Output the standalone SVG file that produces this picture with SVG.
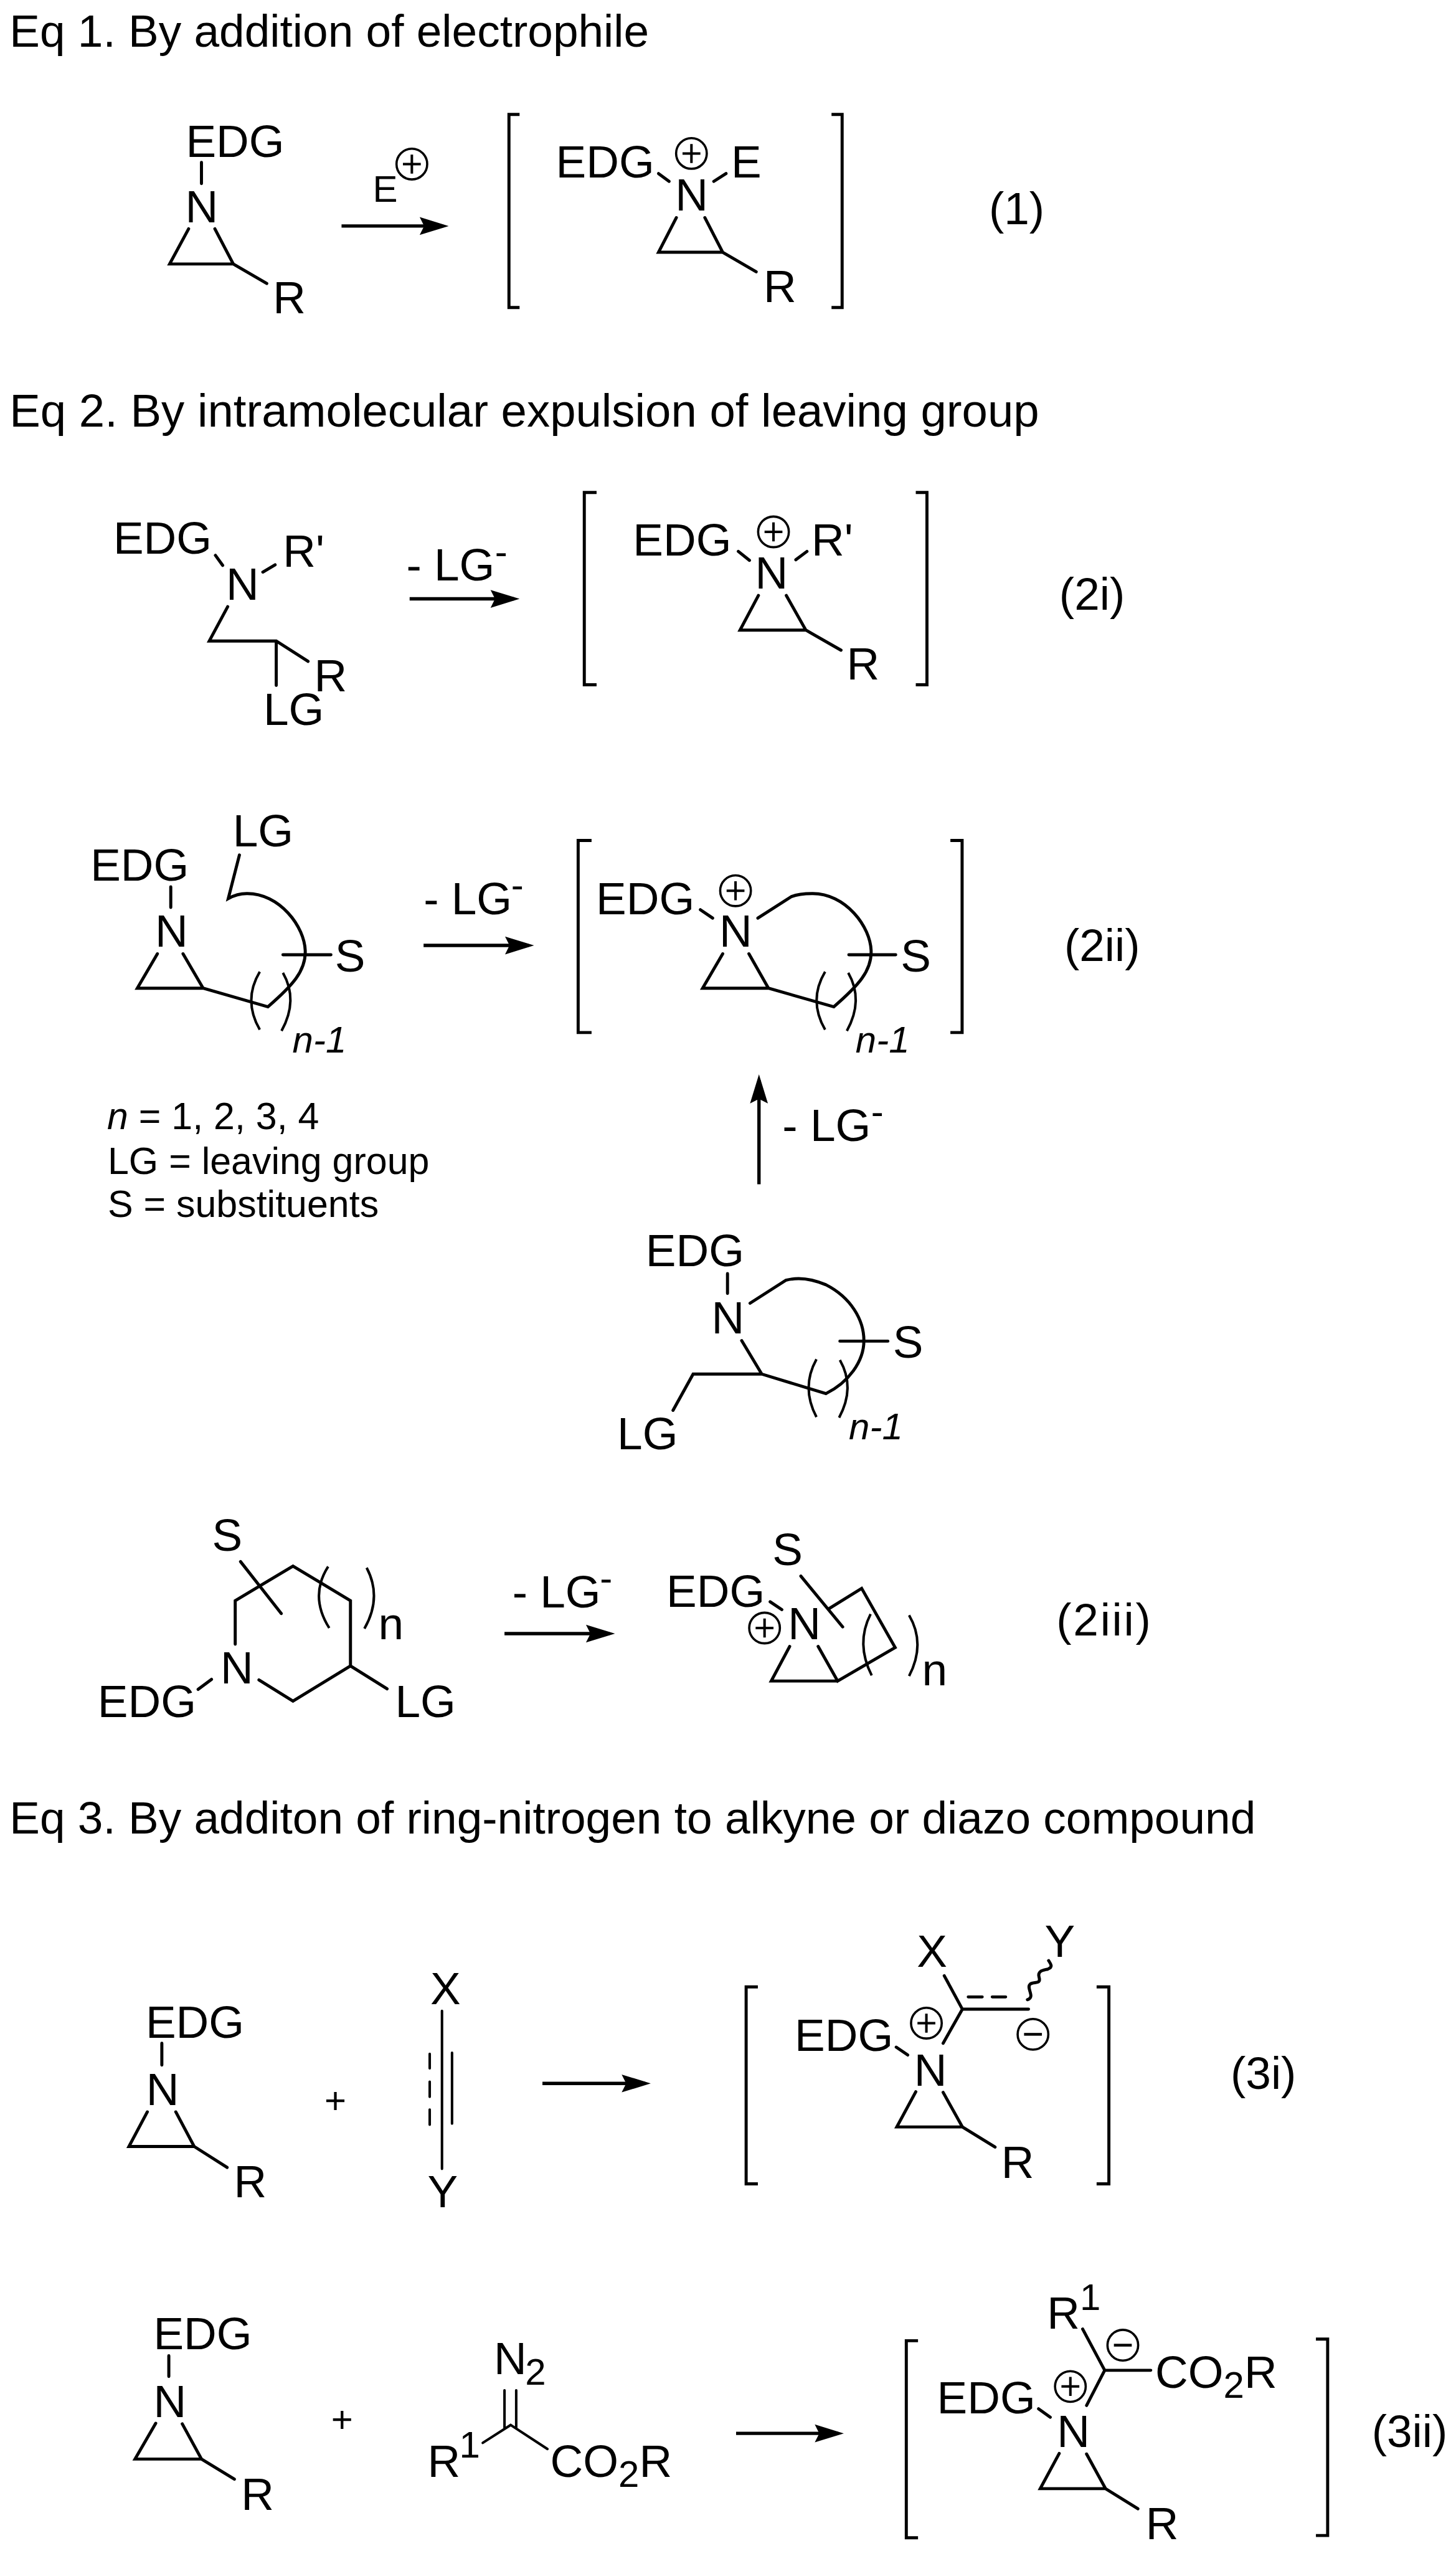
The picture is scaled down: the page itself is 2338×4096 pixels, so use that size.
<svg xmlns="http://www.w3.org/2000/svg" xmlns:xlink="http://www.w3.org/1999/xlink" width="2338" height="4096" viewBox="0 0 2338 4096">
<style>
text{font-family:"Liberation Sans",Arial,sans-serif;fill:#000}
.t{font-size:81.5px}
.s{font-size:67px}
.l{font-size:68px}
.i{font-style:italic}
.b{fill:none;stroke:#000;stroke-width:5.5;stroke-linecap:round;stroke-linejoin:miter}
.p{fill:none;stroke:#000;stroke-width:4.5}
.br{fill:none;stroke:#000;stroke-width:5.5}
.a{fill:none;stroke:#000;stroke-width:6}
</style>
<defs>
<marker id="ah" markerUnits="userSpaceOnUse" markerWidth="60" markerHeight="40" refX="42" refY="20" orient="auto" overflow="visible"><path d="M0 4L52 20L0 36L8 20Z" fill="#000"/></marker>
<g id="plus"><circle r="27.5" fill="none" stroke="#000" stroke-width="4"/><path d="M-16 0H16M0 -17V17" fill="none" stroke="#000" stroke-width="4.5"/></g>
<g id="minus"><circle r="27.5" fill="none" stroke="#000" stroke-width="4"/><path d="M-16 0H16" fill="none" stroke="#000" stroke-width="5"/></g>
</defs>
<rect width="2338" height="4096" fill="#fff"/>
<g transform="scale(0.89613)">
<g id="titles">
<text class="t" x="17" y="84">Eq 1. By addition of electrophile</text>
<text class="t" x="17" y="764" style="font-size:83px">Eq 2. By intramolecular expulsion of leaving group</text>
<text class="t" x="17" y="3285">Eq 3. By additon of ring-nitrogen to alkyne or diazo compound</text>
</g>
<g id="connectors">
<line class="a" x1="612" y1="405" x2="794" y2="405" marker-end="url(#ah)"/>
<line class="a" x1="734" y1="1073" x2="921" y2="1073" marker-end="url(#ah)"/>
<line class="a" x1="759" y1="1694" x2="947" y2="1694" marker-end="url(#ah)"/>
<line class="a" x1="1360" y1="2122" x2="1360" y2="1935" marker-end="url(#ah)"/>
<line class="a" x1="904" y1="2927" x2="1092" y2="2927" marker-end="url(#ah)"/>
<line class="a" x1="972" y1="3733" x2="1156" y2="3733" marker-end="url(#ah)"/>
<line class="a" x1="1319" y1="4360" x2="1502" y2="4360" marker-end="url(#ah)"/>
</g>
<g id="arrow-labels">
<text class="s" x="668" y="362">E</text><use xlink:href="#plus" href="#plus" x="738" y="294"/>
<text class="t" x="728" y="1040">- LG</text><text class="s" x="887" y="1011">-</text>
<text class="t" x="759" y="1638">- LG</text><text class="s" x="916" y="1608">-</text>
<text class="t" x="1402" y="2044">- LG</text><text class="s" x="1561" y="2014">-</text>
<text class="t" x="918" y="2880">- LG</text><text class="s" x="1075" y="2850">-</text>
</g>
<g id="eq1-reactant">
<text class="t" x="333" y="281">EDG</text>
<text class="t" x="332" y="398">N</text>
<text class="t" x="489" y="561">R</text>
<path class="b" d="M361 291V329M338 410L304 473H418L385 410M418 473L478 508"/>
</g>
<g id="eq1-product">
<path class="br" d="M931 205H912V551H931M1490 205H1509V551H1490"/>
<text class="t" x="996" y="318">EDG</text>
<use xlink:href="#plus" href="#plus" x="1239" y="275"/>
<text class="t" x="1310" y="318">E</text>
<text class="t" x="1210" y="377">N</text>
<text class="t" x="1368" y="541">R</text>
<path class="b" d="M1180 311L1199 325M1301 311L1279 325M1212 390L1180 452H1295L1263 390M1295 452L1355 487"/>
</g>
<text class="t" id="label-1" x="1772" y="402">(1)</text>
<g id="eq2i-reactant">
<text class="t" x="203" y="992">EDG</text>
<text class="t" x="405" y="1075">N</text>
<text class="t" x="507" y="1016">R'</text>
<text class="t" x="563" y="1239">R</text>
<text class="t" x="472" y="1299">LG</text>
<path class="b" d="M386 995L399 1013M493 1012L471 1025M408 1087L375 1148.5H495L552 1185M495 1148.5V1228"/>
</g>
<g id="eq2i-product">
<path class="br" d="M1069 882.500H1047V1227H1069M1641 882.500H1661V1227H1641"/>
<text class="t" x="1134" y="995">EDG</text>
<use xlink:href="#plus" href="#plus" x="1386" y="953"/>
<text class="t" x="1454" y="995">R'</text>
<text class="t" x="1353" y="1054">N</text>
<text class="t" x="1517" y="1218">R</text>
<path class="b" d="M1323 988L1343 1004M1446 988L1426 1003M1359 1067L1326 1129H1444L1409 1067M1444 1129L1507 1165"/>
</g>
<text class="t" id="label-2i" x="1898" y="1093">(2i)</text>
<g id="eq2ii-reactant">
<text class="t" x="417" y="1517">LG</text>
<text class="t" x="162" y="1578">EDG</text>
<text class="t" x="278" y="1696">N</text>
<text class="t" x="600" y="1741">S</text>
<text class="s i" x="524" y="1886">n-1</text>
<path class="b" d="M306 1589V1626M282 1709L246 1770.600H364L328 1709M364 1770.600L480 1804C525 1765 547 1740 547 1706C547 1660 500 1600 442 1601Q425 1601 409 1610L429 1532M507 1710.600H593"/>
<path class="p" d="M465.500 1741Q435 1792 465.500 1845M507 1743Q535 1792 504.500 1847"/>
</g>
<g id="eq2ii-product">
<path class="br" d="M1060 1506H1036V1850H1060M1703 1506H1724V1850H1703"/>
<text class="t" x="1068" y="1638">EDG</text>
<use xlink:href="#plus" href="#plus" x="1318" y="1596"/>
<text class="t" x="1289" y="1696">N</text>
<text class="t" x="1614" y="1741">S</text>
<text class="s i" x="1533" y="1886">n-1</text>
<path class="b" d="M1255 1630L1277 1645M1295 1709L1259 1770.600H1377L1342 1709M1377 1770.600L1494 1804C1539 1765 1561 1740 1561 1706C1561 1660 1514 1600 1455 1601Q1432 1601 1418 1606.500L1358 1645M1521 1710.600H1605"/>
<path class="p" d="M1478.500 1741Q1448 1792 1478.500 1845M1520 1743Q1548 1792 1517.500 1847"/>
</g>
<text class="t" id="label-2ii" x="1907" y="1722">(2ii)</text>
<g id="legend">
<text class="l" x="192" y="2023"><tspan class="i">n</tspan> = 1, 2, 3, 4</text>
<text class="l" x="193" y="2103">LG = leaving group</text>
<text class="l" x="193" y="2181">S = substituents</text>
</g>
<g id="eq2ii-precursor">
<text class="t" x="1157" y="2269">EDG</text>
<text class="t" x="1275" y="2389">N</text>
<text class="t" x="1600" y="2433">S</text>
<text class="t" x="1106" y="2597">LG</text>
<text class="s i" x="1521" y="2579">n-1</text>
<path class="b" d="M1303.600 2282V2317.600M1344 2335L1408 2294Q1440 2285 1480 2302C1525 2325 1548 2365 1548 2402C1548 2440 1520 2477 1480 2497L1365 2462L1329 2402M1365 2462H1242L1206 2527M1505 2403H1591"/>
<path class="p" d="M1463 2435.500Q1435 2486 1463 2539M1505 2437Q1533 2486 1503.600 2540"/>
</g>
<g id="eq2iii-reactant">
<text class="t" x="380" y="2779">S</text>
<text class="t" x="395" y="3016">N</text>
<text class="t" x="175" y="3077">EDG</text>
<text class="t" x="708" y="3077">LG</text>
<text class="t" x="678" y="2937">n</text>
<path class="b" d="M421.500 2946V2868L525 2806L628 2868V2985L525 3048L464 3010M628 2985L693.600 3026M379 3009L355 3027M431 2798L504 2891"/>
<path class="p" d="M588 2807Q554 2860 590 2917M657 2809Q685 2862 653 2918"/>
</g>
<g id="eq2iii-product">
<text class="t" x="1384" y="2804">S</text>
<text class="t" x="1194" y="2879">EDG</text>
<use xlink:href="#plus" href="#plus" x="1370" y="2917"/>
<text class="t" x="1412" y="2937">N</text>
<text class="t" x="1652" y="3020">n</text>
<path class="b" d="M1380 2870L1401 2884M1435 2824L1510 2915M1486 2882L1544 2846L1604 2952L1501 3012L1466 2950M1501 3012H1382L1415 2950"/>
<path class="p" d="M1560 2892Q1533 2945 1562 3002M1629 2894Q1659 2945 1629 3003"/>
</g>
<text class="t" id="label-2iii" x="1893" y="2930" style="letter-spacing:3px">(2iii)</text>
<g id="eq3i-aziridine">
<text class="t" x="261" y="3651">EDG</text>
<text class="t" x="262" y="3772">N</text>
<text class="t" x="419" y="3937">R</text>
<path class="b" d="M290 3661V3700M264 3784L231 3846H348L315 3784M348 3846L407 3883.500"/>
</g>
<text class="s" id="plus-3i" x="601" y="3786" text-anchor="middle">+</text>
<g id="eq3i-alkyne">
<text class="t" x="771" y="3591">X</text>
<text class="t" x="766" y="3955">Y</text>
<path class="b" d="M792 3603V3886M810 3678V3805M770 3680V3706M770 3730V3757M770 3780V3807" style="stroke-width:4.500"/>
</g>
<g id="eq3i-product">
<path class="br" d="M1358 3560H1337V3913H1358M1965 3560H1987V3913H1965"/>
<text class="t" x="1643" y="3524">X</text>
<text class="t" x="1872" y="3506">Y</text>
<text class="t" x="1424" y="3675">EDG</text>
<text class="t" x="1638" y="3737">N</text>
<text class="t" x="1794" y="3902">R</text>
<use xlink:href="#plus" href="#plus" x="1660" y="3625"/>
<use xlink:href="#minus" href="#minus" x="1851" y="3645"/>
<path class="b" d="M1692 3540L1724.500 3600H1843M1724.500 3600L1690 3661M1735 3578H1760M1778 3578H1802M1606 3668L1626.500 3682M1641 3748L1607 3811H1724.500L1690 3749M1724.500 3811L1783 3847"/>
<path class="b" d="M1841 3583C1856 3578 1838 3562 1846 3555C1852 3550 1866 3556 1862 3543C1858 3530 1872 3530 1878 3528C1888 3524 1882 3518 1879 3513"/>
</g>
<text class="t" id="label-3i" x="2205" y="3743">(3i)</text>
<g id="eq3ii-aziridine">
<text class="t" x="275" y="4209">EDG</text>
<text class="t" x="275" y="4331">N</text>
<text class="t" x="432" y="4497">R</text>
<path class="b" d="M302.500 4221V4258M279 4342L242 4406H361L326.600 4343M361 4406L420 4442"/>
</g>
<text class="s" id="plus-3ii" x="613" y="4358" text-anchor="middle">+</text>
<g id="eq3ii-diazo">
<text class="t" x="885" y="4254">N</text><text class="s" x="941" y="4273">2</text>
<text class="t" x="766" y="4438">R</text><text class="s" x="823" y="4403">1</text>
<text class="t" x="986" y="4438">CO<tspan class="s" dy="18">2</tspan><tspan dy="-18">R</tspan></text>
<path class="b" d="M904 4283V4350M925 4283V4350M865 4377L915 4345L981 4388" style="stroke-width:4.500"/>
</g>
<g id="eq3ii-product">
<path class="br" d="M1645 4194H1624V4547H1645M2358 4191H2379V4543H2358"/>
<text class="t" x="1876" y="4172">R</text><text class="s" x="1935" y="4139">1</text>
<use xlink:href="#minus" href="#minus" x="2012" y="4202"/>
<use xlink:href="#plus" href="#plus" x="1918" y="4276"/>
<text class="t" x="2070" y="4278">CO<tspan class="s" dy="18">2</tspan><tspan dy="-18">R</tspan></text>
<text class="t" x="1679" y="4324">EDG</text>
<text class="t" x="1894" y="4384">N</text>
<text class="t" x="2053" y="4550">R</text>
<path class="b" d="M1940 4173L1979.500 4247H2062M1979.500 4247L1947 4310M1861 4316L1882 4331M1898 4396L1864 4459H1981L1947 4397M1981 4459L2039 4495"/>
</g>
<text class="t" id="label-3ii" x="2458" y="4384">(3ii)</text>
</g>
</svg>
